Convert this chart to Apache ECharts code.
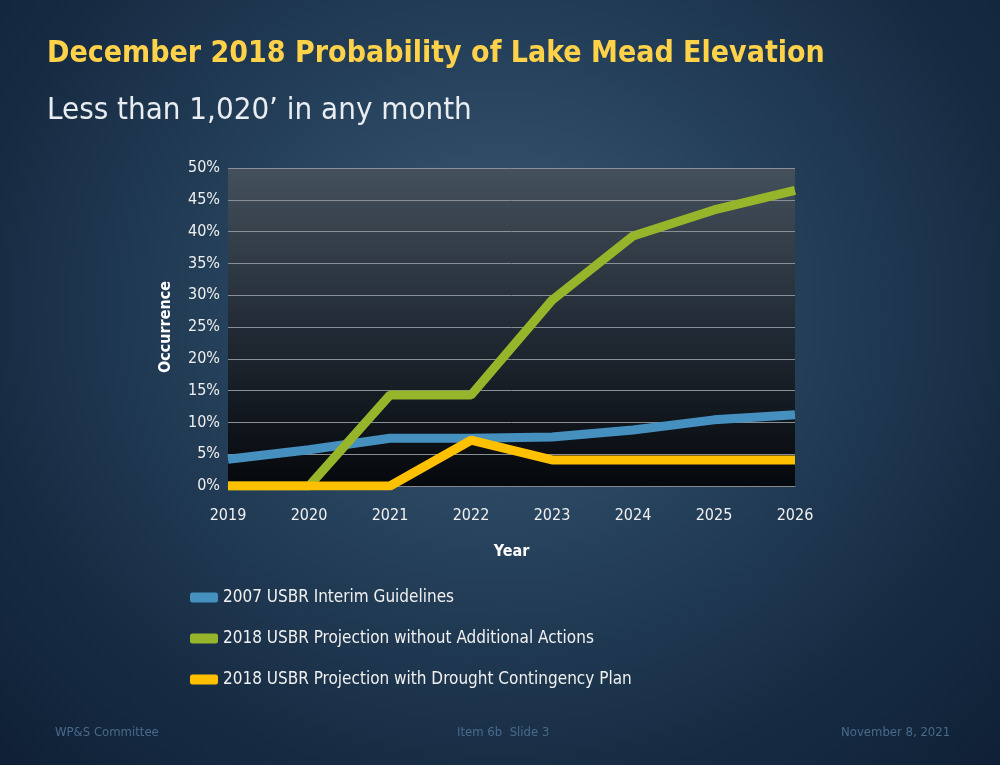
<!DOCTYPE html>
<html><head><meta charset="utf-8">
<script src="https://cdn.jsdelivr.net/npm/echarts@6/dist/echarts.min.js"></script>
<style>
html,body{margin:0;padding:0;width:1000px;height:765px;overflow:hidden;}
body{background:radial-gradient(ellipse at 50% 40%, #3d5a75 0%, #25405a 40%, #162b42 75%, #0f2036 100%);}
#c{width:1000px;height:765px;}
</style></head><body>
<div id="c"></div>
<script>
const years = ['2019','2020','2021','2022','2023','2024','2025','2026'];
const interim = [4.2, 5.7, 7.5, 7.5, 7.7, 8.8, 10.4, 11.2];
const noActions = [0, 0, 14.3, 14.3, 29.2, 39.3, 43.4, 46.5];
const withDCP = [0, 0, 0, 7.2, 4.1, 4.1, 4.1, 4.1];
const names = ['2007 USBR Interim Guidelines','2018 USBR Projection without Additional Actions','2018 USBR Projection with Drought Contingency Plan'];
const colors = ['#4590bf','#97b52a','#ffc000'];

const chart = echarts.init(document.getElementById('c'));
const font = 'DejaVu Sans Condensed, Liberation Sans, sans-serif';
chart.setOption({
  backgroundColor: 'transparent',
  animation: false,
  textStyle:{fontFamily:font},
  title: [
    {text:'December 2018 Probability of Lake Mead Elevation', left:42, top:34,
     textStyle:{fontFamily:font,fontSize:30,fontWeight:'bold',color:'#ffd24a'}},
    {text:'Less than 1,020\u2019 in any month', left:42, top:90,
     textStyle:{fontFamily:font,fontSize:31,fontWeight:'normal',color:'#e8edf2'}},
    {text:'WP&S Committee', left:50, top:721, textStyle:{fontFamily:font,fontSize:13,fontWeight:'normal',color:'#4a6a8a'}},
    {text:'Item 6b  Slide 3', left:452, top:721, textStyle:{fontFamily:font,fontSize:13,fontWeight:'normal',color:'#4a6a8a'}},
    {text:'November 8, 2021', left:836, top:721, textStyle:{fontFamily:font,fontSize:13,fontWeight:'normal',color:'#4a6a8a'}}
  ],
  grid:{left:228, right:205, top:168, bottom:279, show:true, borderWidth:0,
    backgroundColor:new echarts.graphic.LinearGradient(0,0,0,1,[{offset:0,color:'#44505c'},{offset:0.5,color:'#222b35'},{offset:1,color:'#05080c'}])},
  legend:{orient:'vertical', left:185, top:584, itemGap:24, itemWidth:28, itemHeight:10,
    icon:'roundRect',
    textStyle:{color:'#f0f0f0',fontSize:17,fontFamily:font},
    data:names},
  xAxis:{type:'category', data:years, boundaryGap:false, name:'Year', nameLocation:'middle', nameGap:58,
    nameTextStyle:{color:'#fff',fontSize:16,fontWeight:'bold'},
    axisLine:{lineStyle:{color:'#888'}}, axisTick:{show:false},
    axisLabel:{color:'#f0f0f0',fontSize:16,margin:22}},
  yAxis:{type:'value', min:0, max:50, interval:5, name:'Occurrence', nameLocation:'middle', nameGap:54,
    nameTextStyle:{color:'#fff',fontSize:16,fontWeight:'bold'},
    axisLine:{show:false}, axisTick:{show:false},
    axisLabel:{color:'#f0f0f0',fontSize:16,formatter:v=>v+'%'},
    splitLine:{lineStyle:{color:'#8a8f95',width:1}}},
  series:[
    {name:names[0],type:'line',data:interim,symbol:'none',lineStyle:{width:9,color:colors[0]},itemStyle:{color:colors[0]}},
    {name:names[1],type:'line',data:noActions,symbol:'none',lineStyle:{width:9,color:colors[1]},itemStyle:{color:colors[1]}},
    {name:names[2],type:'line',data:withDCP,symbol:'none',lineStyle:{width:9,color:colors[2]},itemStyle:{color:colors[2]}}
  ]
});
</script></body></html>
